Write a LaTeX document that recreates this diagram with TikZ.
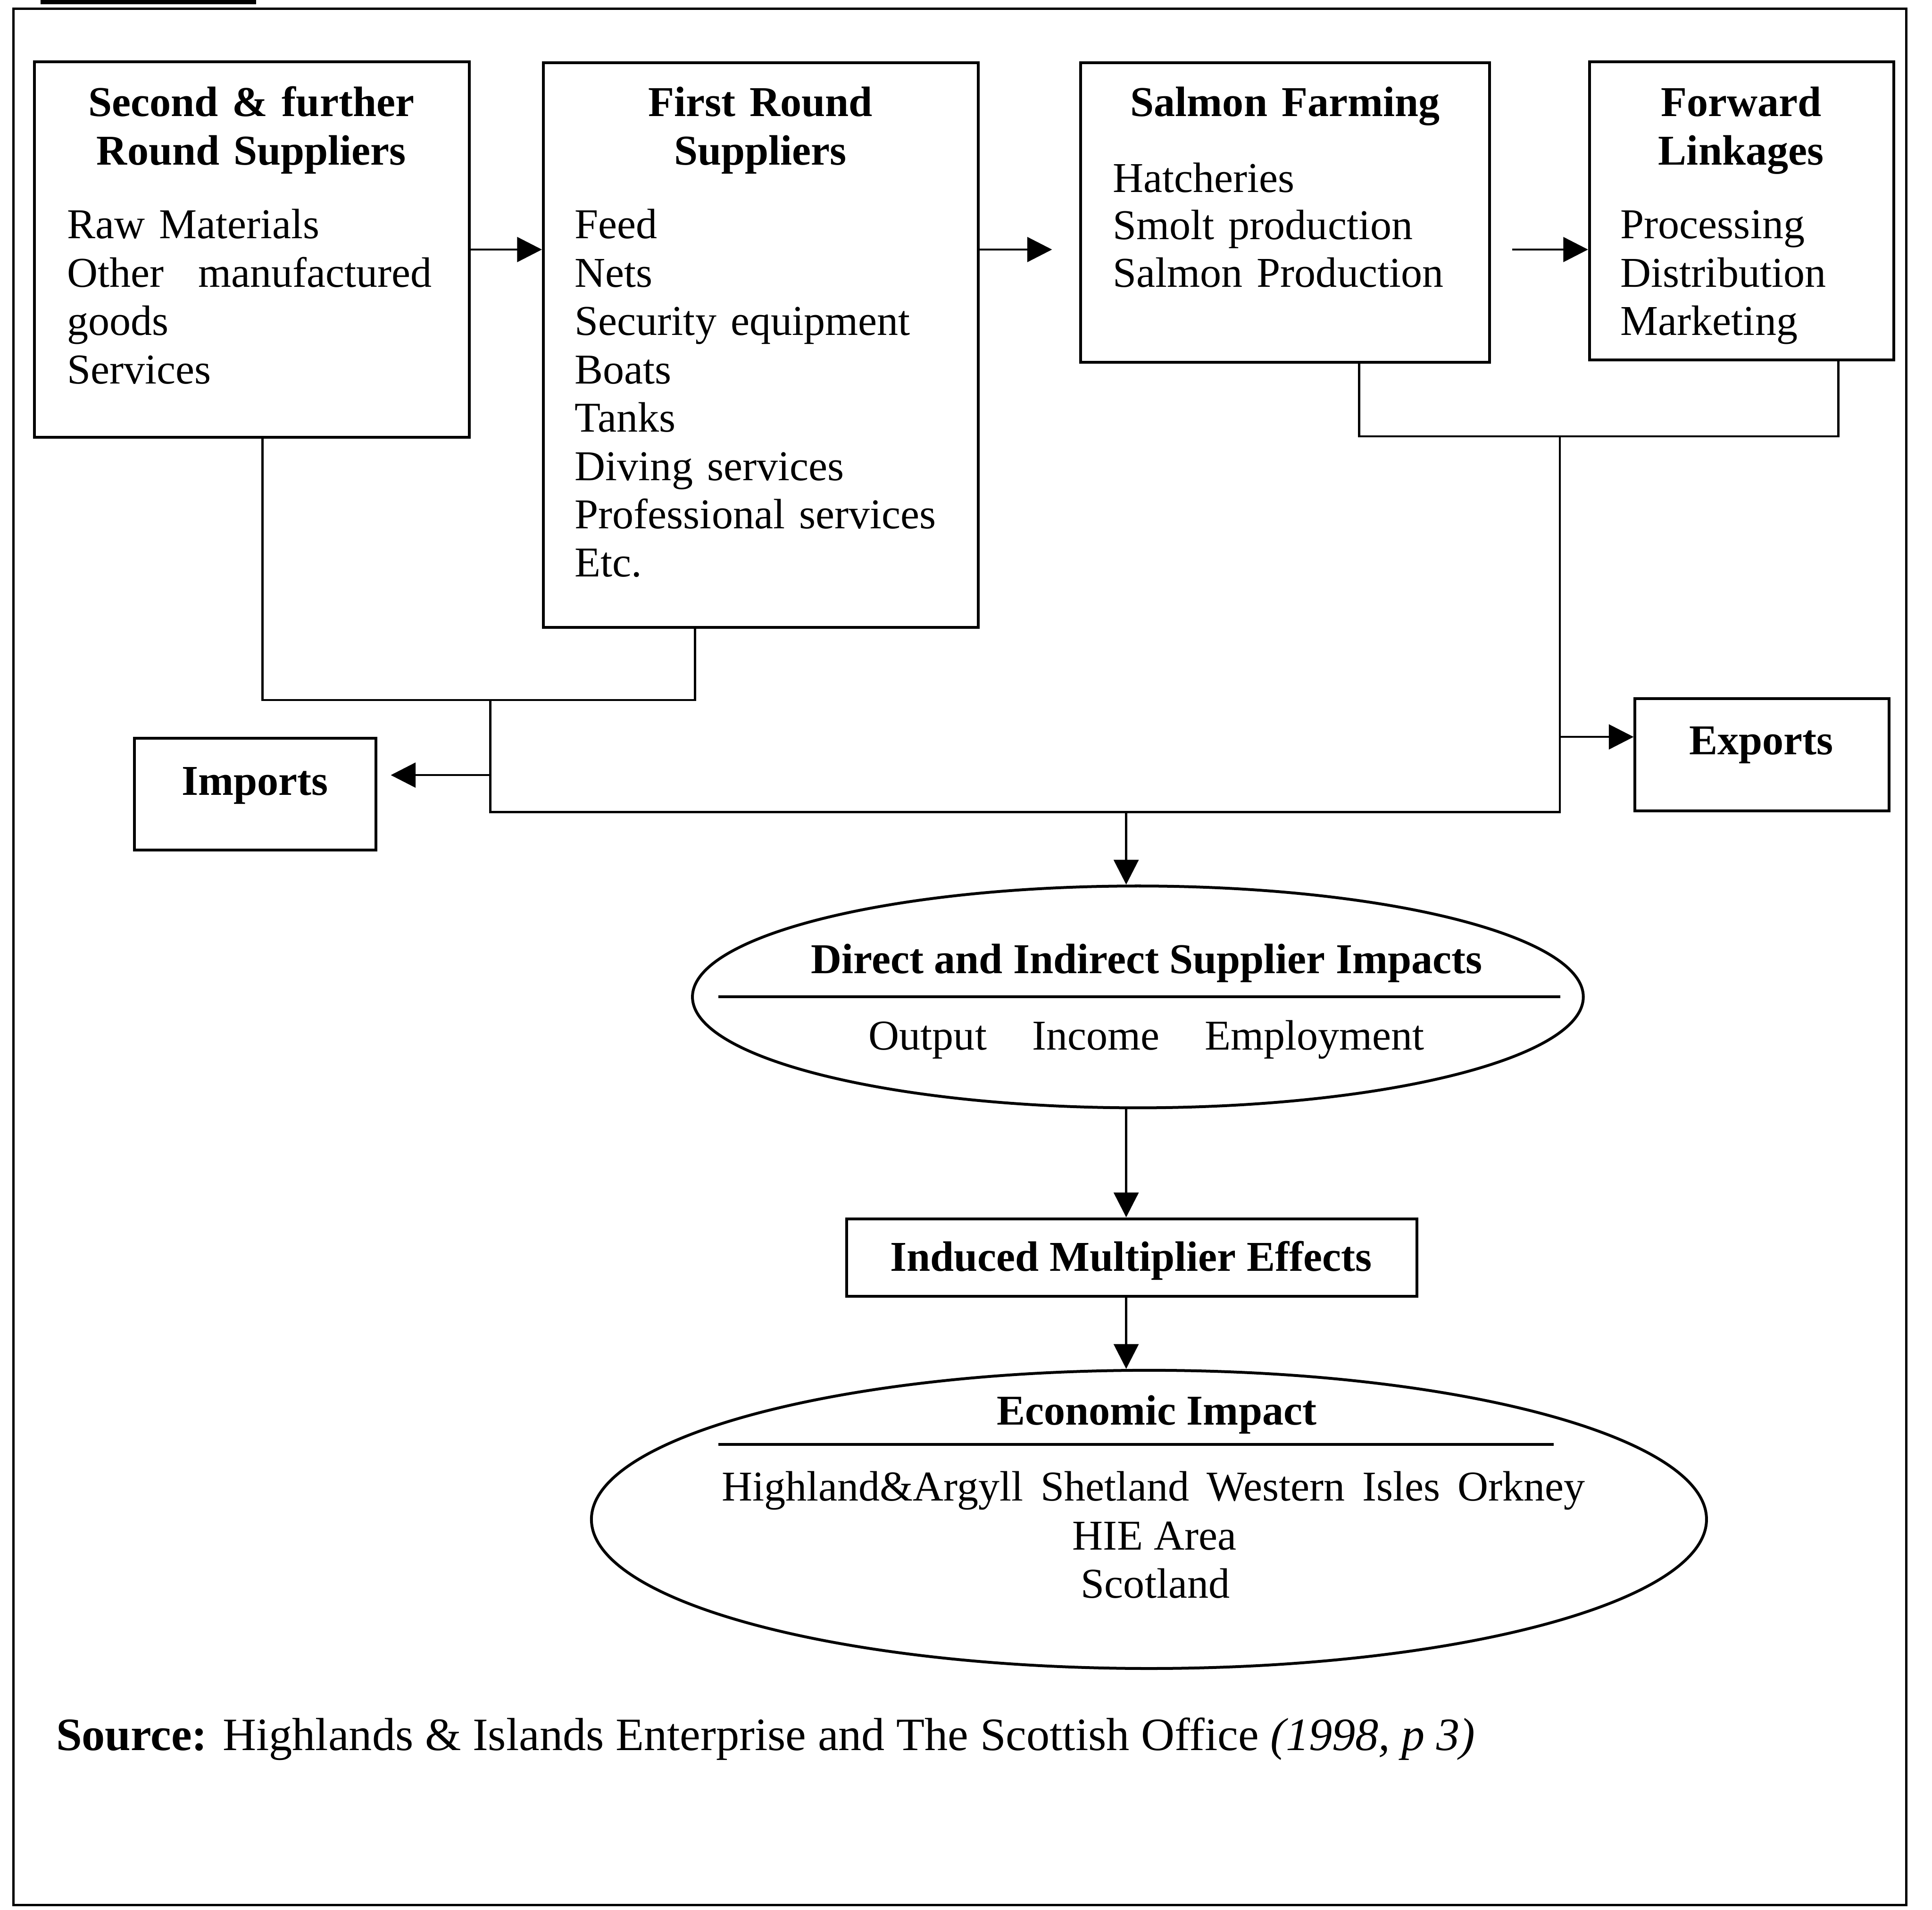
\documentclass[tikz,border=0pt]{standalone}
\usepackage{fontspec}
\setmainfont{Liberation Serif}
\usetikzlibrary{arrows.meta,fit,shapes.geometric}
\newlength{\unitpx}
\setlength{\unitpx}{0.348pt}
\tikzset{
  boxnode/.style={draw, line width=0.8pt, inner sep=0pt},
  conn/.style={line width=0.6pt},
  arr/.style={line width=0.6pt, -{Triangle[length=7pt,width=7pt]}},
  ttl/.style={anchor=base, align=center, text width=360\unitpx, inner sep=0pt,
    font=\fontsize{12}{13.65}\selectfont\bfseries},
  body/.style={anchor=base west, align=left, inner sep=0pt,
    font=\fontsize{12}{13.65}\selectfont},
  one/.style={anchor=base, inner sep=0pt, font=\fontsize{12}{13.65}\selectfont},
}
\begin{document}
\begin{tikzpicture}[x=0.348pt,y=-0.348pt]
\fill[white] (0,0) rectangle (1568,1550);
\useasboundingbox (0,0) rectangle (1568,1550);
% outer frame and clipped caption bar
\draw[line width=0.7pt] (11,7) rectangle (1547,1546);
\fill (33,0) rectangle (208,3.5);

% boxes
\node[boxnode, fit={(28,50)(381,355)}] (b1) {};
\node[boxnode, fit={(441,51)(794,509)}] (b2) {};
\node[boxnode, fit={(877,51)(1209,294)}] (b3) {};
\node[boxnode, fit={(1290,50)(1537,292)}] (b4) {};
\node[boxnode, fit={(109,599)(305,690)}] (imp) {};
\node[boxnode, fit={(1327,567)(1533,658)}] (exp) {};
\node[boxnode, fit={(687,989)(1150,1052)}] (ind) {};
\node[draw, line width=0.8pt, ellipse, inner sep=0pt, minimum width=723\unitpx, minimum height=180\unitpx] (e1) at (923.5,809) {};
\node[draw, line width=0.8pt, ellipse, inner sep=0pt, minimum width=905\unitpx, minimum height=242\unitpx] (e2) at (932.5,1233) {};

% texts in boxes
\node[ttl] (t1) at (204,94.4) {Second \& further\\Round Suppliers};
\node[body, text width=300\unitpx] (c1) at (54,193.6) {Raw Materials\\\makebox[296\unitpx][l]{Other\hfill manufactured}\\goods\\Services};
\node[ttl] (t2) at (617,94.4) {First Round\\Suppliers};
\node[body, text width=320\unitpx] (c2) at (466,193.6) {Feed\\Nets\\Security equipment\\Boats\\Tanks\\Diving services\\Professional services\\Etc.};
\node[ttl] (t3) at (1043,94.4) {Salmon Farming};
\node[body, text width=300\unitpx, font=\fontsize{12}{13.45}\selectfont] (c3) at (902.7,155.8) {Hatcheries\\Smolt production\\Salmon Production};
\node[ttl] (t4) at (1413,94.4) {Forward\\Linkages};
\node[body, text width=215\unitpx] (c4) at (1314.7,193.6) {Processing\\Distribution\\Marketing};
\node[one, font=\fontsize{12}{13.65}\selectfont\bfseries] (timp) at (207,645.2) {Imports};
\node[one, font=\fontsize{12}{13.65}\selectfont\bfseries] (texp) at (1429.5,612.2) {Exports};
\node[one, font=\fontsize{12}{13.65}\selectfont\bfseries] (tind) at (918,1031.6) {Induced Multiplier Effects};

% ellipse texts
\node[one, font=\fontsize{12}{13.65}\selectfont\bfseries] (te1) at (930.7,789.9) {Direct and Indirect Supplier Impacts};
\node[body] (be1) at (704.5,852.1) {\makebox[451\unitpx][s]{Output Income Employment}};
\draw[line width=0.8pt] ([xshift=22\unitpx]e1.west) -- ([xshift=-20\unitpx]e1.east);
\node[one, font=\fontsize{12}{13.65}\selectfont\bfseries] (te2) at (938.7,1156.2) {Economic Impact};
\coordinate (dl) at (583,1172);
\coordinate (dr) at (1261,1172);
\draw[line width=0.8pt] (dl) -- (dr);
\node[body] (be2) at (585.3,1218) {\makebox[700.4\unitpx][s]{Highland\&Argyll Shetland Western Isles Orkney}};
\node[one] (hie) at (937,1257.7) {HIE Area};
\node[one] (sco) at (937.7,1296.8) {Scotland};

% source
\node[body, font=\fontsize{13.1}{15}\selectfont] (src) at (45,1420.4) {\textbf{Source:} Highlands \& Islands Enterprise and The Scottish Office \textit{(1998, p 3)}};

% junction coordinates
\coordinate (bl) at (213,568);
\coordinate (br) at (564,568);
\coordinate (m1) at (398,568);
\coordinate (m2) at (398,659);
\coordinate (m3) at (914,659);
\coordinate (m4) at (1266,659);
\coordinate (m5) at (1266,354);
\coordinate (rl) at (1103,354);
\coordinate (rr) at (1492,354);
\coordinate (ia) at (398,629);
\coordinate (ea) at (1266,598);

% top arrows
\draw[arr] (b1.east) -- (b1.east -| b2.west);
\draw[arr, shorten >=22\unitpx] (b2.east |- b1.east) -- (b3.west |- b1.east);
\draw[arr, shorten <=17\unitpx] (b3.east |- b1.east) -- (b4.west |- b1.east);

% brackets and collection lines
\draw[conn] (b1.south -| bl) -- (bl) -- (br) -- (b2.south -| br);
\draw[conn] (b3.south -| rl) -- (rl) -- (rr) -- (b4.south -| rr);
\draw[conn] (m1) -- (m2) -- (m4) -- (m5);
\draw[arr, shorten >=11\unitpx] (ia) -- (ia -| imp.east);
\draw[arr] (ea) -- (ea -| exp.west);

% vertical chain
\draw[arr] (m3) -- (m3 |- e1.north);
\draw[arr] (m3 |- e1.south) -- (m3 |- ind.north);
\draw[arr] (m3 |- ind.south) -- (m3 |- e2.north);
\end{tikzpicture}
\end{document}
